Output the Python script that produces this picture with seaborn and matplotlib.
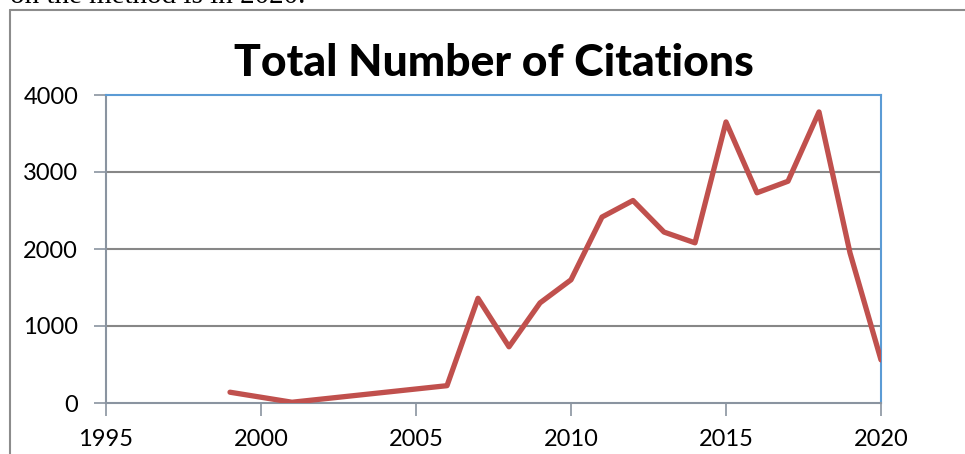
import seaborn as sns
import matplotlib.pyplot as plt
from matplotlib.lines import Line2D

sns.set_style("white")
plt.rcParams['font.family'] = ['Lato', 'DejaVu Sans']

years = [1999, 2001, 2006, 2007, 2008, 2009, 2010, 2011, 2012, 2013,
         2014, 2015, 2016, 2017, 2018, 2019, 2020]
citations = [140, 10, 225, 1360, 730, 1300, 1600, 2415, 2630, 2220,
             2080, 3650, 2730, 2880, 3780, 1950, 560]
x_ticks = [1995, 2000, 2005, 2010, 2015, 2020]
y_ticks = [0, 1000, 2000, 3000, 4000]

W, H = 965, 454
fig = plt.figure(figsize=(W / 100, H / 100), dpi=100)
ax = fig.add_axes([106 / W, 1 - 403 / H, (881 - 106) / W, (403 - 95) / H])

# page frame and the cut-off sentence above the chart
fig.add_artist(Line2D([10 / W, 10 / W], [1 - 10 / H, 0], color="#8c8c8c", lw=1.5))
fig.add_artist(Line2D([10 / W, 1], [1 - 10 / H, 1 - 10 / H], color="#8c8c8c", lw=1.5))
fig.text(10 / W, 1 - 3 / H, "on the method is in 2020.", family="Liberation Serif",
         fontsize=21, va="baseline", ha="left", color="black")

for yv in y_ticks[1:-1]:
    ax.axhline(yv, color="#878787", lw=1.5, zorder=1)

sns.lineplot(x=years, y=citations, ax=ax, color="#C0504D", linewidth=3.8, zorder=3)

ax.set_xlim(1995, 2020)
ax.set_ylim(0, 4000)
ax.set_xticks(x_ticks)
ax.set_yticks(y_ticks)
ax.tick_params(axis="both", which="major", labelsize=17, length=9, width=1.2,
               color="#8a94a0", labelcolor="black", direction="out",
               bottom=True, left=True, pad=11)
ax.tick_params(axis="x", pad=10)

for side in ["left", "bottom"]:
    ax.spines[side].set_color("#8a94a0")
    ax.spines[side].set_linewidth(1.5)
for side in ["top", "right"]:
    ax.spines[side].set_color("#5b9bd5")
    ax.spines[side].set_linewidth(1.5)

ax.set_title("Total Number of Citations", fontsize=32, fontweight="black",
             color="black", pad=14)

fig.savefig("out.png", dpi=100)
plt.close(fig)
